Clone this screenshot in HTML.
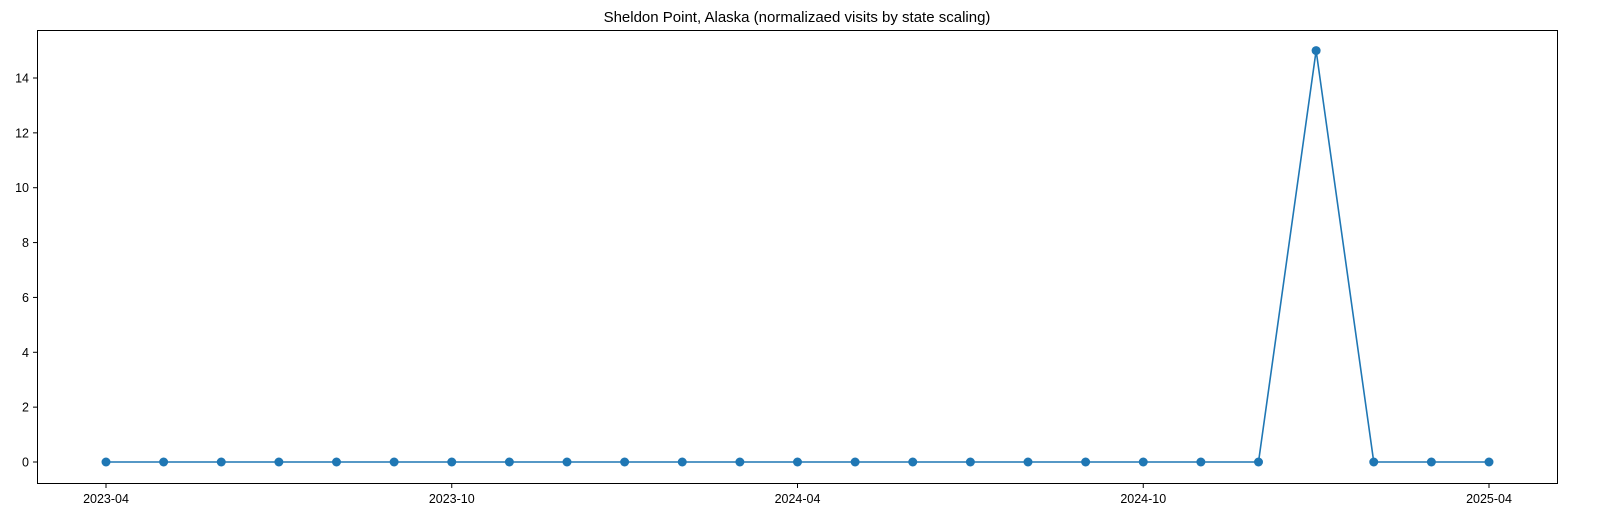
<!DOCTYPE html>
<html>
<head>
<meta charset="utf-8">
<style>
html,body{margin:0;padding:0;background:#fff;}
svg{display:block;font-family:"Liberation Sans","DejaVu Sans",sans-serif;}
</style>
</head>
<body>
<svg id="chart" width="1597" height="526" viewBox="0 0 1597 526">
<text x="797" y="22" text-anchor="middle" font-size="15" fill="#000">Sheldon Point, Alaska (normalizaed visits by state scaling)</text>
<g id="yaxis"></g>
<g id="xaxis"></g>
<g id="series"></g>
<rect x="37.5" y="30.5" width="1520" height="453" fill="none" stroke="#000" stroke-width="1"/>
</svg>
<script>
const values = [0,0,0,0,0,0,0,0,0,0,0,0,0,0,0,0,0,0,0,0,0,15,0,0,0];
const yTicks = [0,2,4,6,8,10,12,14];
const xTickLabels = ["2023-04","2023-10","2024-04","2024-10","2025-04"];
const xTickIndex = [0,6,12,18,24];

const NS = "http://www.w3.org/2000/svg";
const svg = document.getElementById('chart');
function xs(i){ return 106 + (1489-106) * i / (values.length-1); }
function ys(v){ return 462 - v * (462-78)/14; }
function mk(tag, attrs, parent){
  const e = document.createElementNS(NS, tag);
  for (const k in attrs) e.setAttribute(k, attrs[k]);
  parent.appendChild(e); return e;
}
const ya = document.getElementById('yaxis');
yTicks.forEach(t=>{
  const y = ys(t);
  const l = mk('line',{x1:33,x2:37.5,y1:y,y2:y,stroke:'#000'},ya);
  
  
  const tx = mk('text',{x:29,y:y+4.5,'text-anchor':'end','font-size':12.5,fill:'#000'},ya);
  tx.textContent = t;
  
  
});
const xa = document.getElementById('xaxis');
xTickLabels.forEach((lab,k)=>{
  const x = xs(xTickIndex[k]);
  const l = mk('line',{x1:x,x2:x,y1:483.5,y2:488,stroke:'#000'},xa);
  
  
  const tx = mk('text',{x:x,y:503,'text-anchor':'middle','font-size':12.5,fill:'#000'},xa);
  tx.textContent = lab;
  
  
});
const sg = document.getElementById('series');
const pts = values.map((v,i)=>xs(i)+','+ys(v)).join(' ');
const pl = mk('polyline',{points:pts,fill:'none',stroke:'#1f77b4','stroke-width':1.6},sg);


values.forEach((v,i)=>{
  const c = mk('circle',{cx:xs(i),cy:ys(v),r:4.5,fill:'#1f77b4'},sg);
  
  
});
</script>
</body>
</html>
